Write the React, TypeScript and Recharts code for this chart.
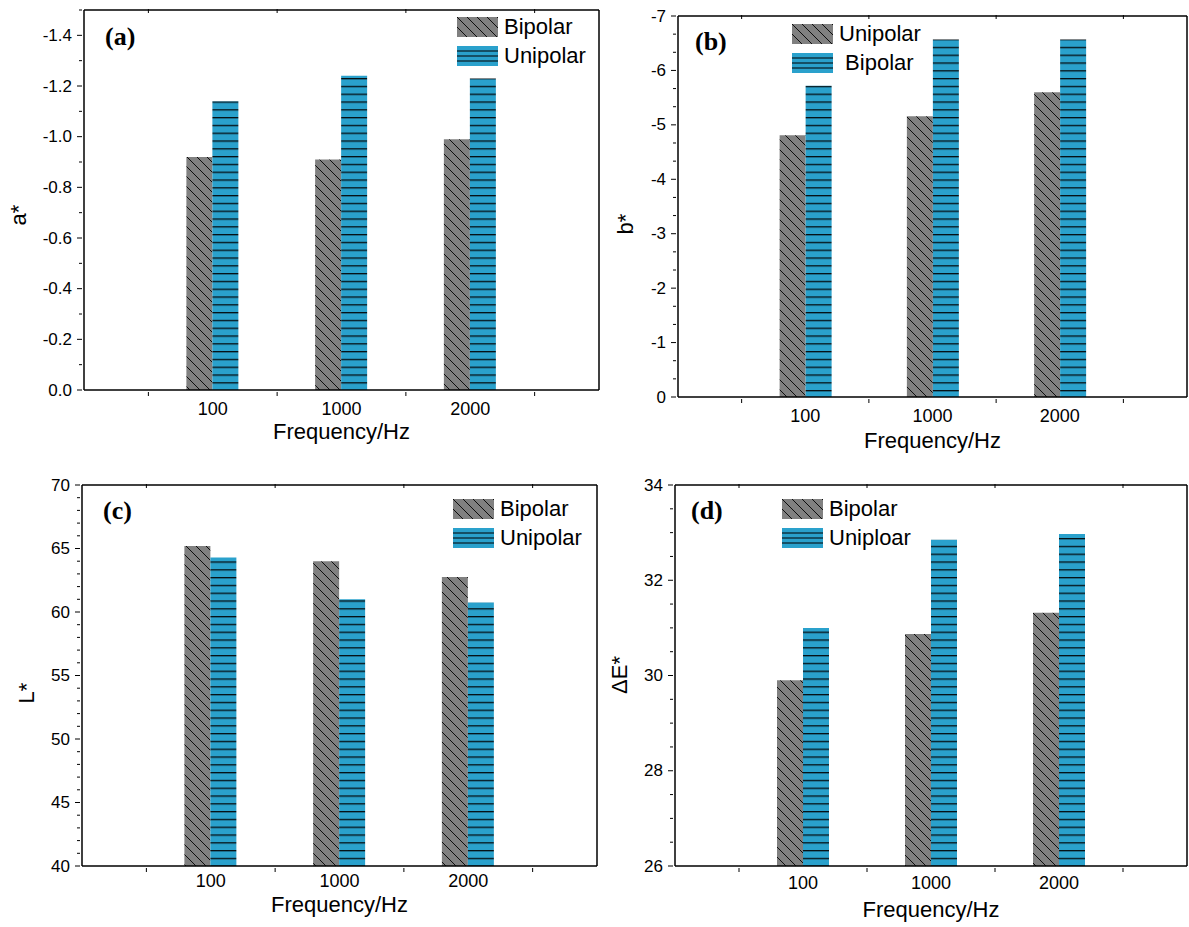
import React from 'react';
import { BarChart, Bar, XAxis, YAxis, Legend } from 'recharts';

const frequencies = ['100', '1000', '2000'];

// (a) a*
const aBipolar = [-0.92, -0.91, -0.99];
const aUnipolar = [-1.14, -1.24, -1.23];
// (b) b*  (legend in the original names grey "Unipolar", blue "Bipolar")
const bUnipolar = [-4.81, -5.16, -5.6];
const bBipolar = [-5.72, -6.57, -6.57];
// (c) L*
const lBipolar = [65.2, 64.0, 62.76];
const lUnipolar = [64.3, 61.0, 60.75];
// (d) ΔE*
const eBipolar = [29.9, 30.87, 31.32];
const eUniploar = [31.0, 32.85, 32.97];

// major tick labels
const aTicks = [-1.4, -1.2, -1.0, -0.8, -0.6, -0.4, -0.2, 0];
const bTicks = [-7, -6, -5, -4, -3, -2, -1, 0];
const lTicks = [40, 45, 50, 55, 60, 65, 70];
const eTicks = [26, 28, 30, 32, 34];

const GRAY = '#808080';
const BLUE = '#2aa1cc';
const INK = '#000';
const SANS = '"Liberation Sans", Arial, sans-serif';
const SERIF = '"Liberation Serif", "Times New Roman", serif';

// all ticks (major + minor) between min and max
const allTicks = (min: number, max: number, step: number) => {
  const n = Math.round((max - min) / step);
  const out: number[] = [];
  for (let i = 0; i <= n; i++) out.push(+(min + i * step).toFixed(6));
  return out;
};

const panels = [
  {
    id: 'a', left: 0, top: 0, width: 600, height: 460,
    plot: { left: 84, right: 599, top: 10, bottom: 390 },
    domain: [-1.5, 0], reversed: true, majors: aTicks, step: 0.1,
    fmt: (v: number) => v.toFixed(1),
    yTitle: 'a*', yTitleAt: [18, 215], xTitleY: 439, tickDy: 23, tagAt: [21, 35],
    legendAt: [457, 17],
    grayName: 'Bipolar', grayVals: aBipolar, blueName: 'Unipolar', blueVals: aUnipolar,
  },
  {
    id: 'b', left: 590, top: 0, width: 599, height: 460,
    plot: { left: 88, right: 597, top: 16, bottom: 397 },
    domain: [-7, 0], reversed: true, majors: bTicks, step: 1 / 3,
    fmt: (v: number) => String(v),
    yTitle: 'b*', yTitleAt: [35, 224], xTitleY: 448, tickDy: 23, tagAt: [17, 34],
    legendAt: [202, 24],
    grayName: 'Unipolar', grayVals: bUnipolar, blueName: ' Bipolar', blueVals: bBipolar,
  },
  {
    id: 'c', left: 0, top: 460, width: 600, height: 467,
    plot: { left: 82, right: 597, top: 25, bottom: 406 },
    domain: [40, 70], reversed: false, majors: lTicks, step: 1,
    fmt: (v: number) => String(v),
    yTitle: 'L*', yTitleAt: [26, 233], xTitleY: 452, tickDy: 19, tagAt: [21, 34],
    legendAt: [453, 39],
    grayName: 'Bipolar', grayVals: lBipolar, blueName: 'Unipolar', blueVals: lUnipolar,
  },
  {
    id: 'd', left: 590, top: 460, width: 599, height: 467,
    plot: { left: 85, right: 597, top: 25, bottom: 406 },
    domain: [26, 34], reversed: false, majors: eTicks, step: 0.5,
    fmt: (v: number) => String(v),
    yTitle: 'ΔE*', yTitleAt: [29, 215], xTitleY: 457, tickDy: 21, tagAt: [16, 34],
    legendAt: [192, 39],
    grayName: 'Bipolar', grayVals: eBipolar, blueName: 'Uniploar', blueVals: eUniploar,
  },
];

function YTick(props: any) {
  const { x, y, value, majors, fmt } = props;
  const major = majors.some((m: number) => Math.abs(m - value) < 1e-6);
  return (
    <g>
      <line x1={x} x2={x - (major ? 5 : 3)} y1={y} y2={y} stroke={INK} strokeWidth={1} />
      {major && (
        <text x={x - 10} y={y} textAnchor="end" dominantBaseline="central"
          fontSize={17} fontFamily={SANS} fill="#000">
          {fmt(value)}
        </text>
      )}
    </g>
  );
}

function XTick(props: any) {
  const { x, y, index, label, band, dy, top } = props;
  const last = index === frequencies.length - 1;
  const y0 = top ? y + 1 : y;
  return (
    <g>
      <line x1={x - band / 2} x2={x - band / 2} y1={y0} y2={y0 + 4} stroke={INK} strokeWidth={1} />
      {last && <line x1={x + band / 2} x2={x + band / 2} y1={y0} y2={y0 + 4} stroke={INK} strokeWidth={1} />}
      {!top && (
        <text x={x} y={y + dy} textAnchor="middle" fontSize={18} fontFamily={SANS} fill="#000">
          {label}
        </text>
      )}
    </g>
  );
}

function Swatch({ kind, uid }: { kind: string; uid: string }) {
  if (kind === 'hatch') {
    return (
      <svg width={41} height={20} style={{ display: 'block' }}>
        <defs>
          <pattern id={uid} patternUnits="userSpaceOnUse" width={10} height={10}>
            <rect width={10} height={10} fill={GRAY} />
            <path d="M0,0L10,10M-5,5L5,15M5,-5L15,5" stroke="#000" strokeWidth={0.9} />
          </pattern>
        </defs>
        <rect width={41} height={20} fill={`url(#${uid})`} />
      </svg>
    );
  }
  return (
    <svg width={41} height={20} style={{ display: 'block' }}>
      <rect width={41} height={20} fill={BLUE} />
      {[5, 10, 15].map((ly) => (
        <line key={ly} x1={0} x2={41} y1={ly} y2={ly} stroke="#000" strokeWidth={1.2} />
      ))}
    </svg>
  );
}

function LegendBox({ payload, id }: any) {
  const items = [...(payload || [])].sort((u: any, v: any) => (u.dataKey === 'hatch' ? -1 : 1) - (v.dataKey === 'hatch' ? -1 : 1));
  return (
    <div style={{ fontFamily: SANS, fontSize: 22, color: '#000' }}>
      {items.map((item: any, i: number) => (
        <div key={i} style={{ display: 'flex', alignItems: 'center', height: 20, marginBottom: 9 }}>
          <Swatch kind={item.dataKey} uid={`sw-${id}-${i}`} />
          <span style={{ marginLeft: 6, whiteSpace: 'pre', lineHeight: '20px' }}>{item.value}</span>
        </div>
      ))}
    </div>
  );
}

function Panel({ p }: { p: (typeof panels)[number] }) {
  const data = frequencies.map((f, i) => ({ freq: f, hatch: p.grayVals[i], lines: p.blueVals[i] }));
  const plotW = p.plot.right - p.plot.left;
  const band = plotW / 4;
  const pad = plotW / 8;
  const ticks = allTicks(p.domain[0], p.domain[1], p.step);
  const cx = (p.plot.left + p.plot.right) / 2;
  const frame = { stroke: INK, strokeWidth: 1.5 };

  return (
    <div style={{ position: 'absolute', left: p.left, top: p.top }}>
      <BarChart
        width={p.width}
        height={p.height}
        data={data}
        barGap={0}
        margin={{ top: p.plot.top - 1, right: p.width - p.plot.right - 1, bottom: 0, left: 0 }}
      >
        <defs>
          <pattern id={`hatch-${p.id}`} patternUnits="userSpaceOnUse" width={10} height={10}>
            <rect width={10} height={10} fill={GRAY} />
            <path d="M0,0L10,10M-5,5L5,15M5,-5L15,5" stroke="#000" strokeWidth={0.9} />
          </pattern>
          <pattern id={`lines-${p.id}`} patternUnits="userSpaceOnUse" width={10} height={7.8}>
            <rect width={10} height={7.8} fill={BLUE} />
            <line x1={0} x2={10} y1={0.7} y2={0.7} stroke="#000" strokeWidth={1.2} />
          </pattern>
        </defs>
        <XAxis
          dataKey="freq"
          height={p.height - p.plot.bottom}
          padding={{ left: pad, right: pad }}
          interval={0}
          tickSize={0}
          tickLine={false}
          axisLine={frame}
          tick={(t: any) => (
            <XTick x={t.x} y={t.y} index={t.index} label={t.payload.value} band={band} dy={p.tickDy} />
          )}
          label={() => (
            <text x={cx} y={p.xTitleY} textAnchor="middle" fontSize={22} fontFamily={SANS} fill="#000">
              Frequency/Hz
            </text>
          )}
        />
        <XAxis
          xAxisId="top"
          orientation="top"
          dataKey="freq"
          height={1}
          padding={{ left: pad, right: pad }}
          interval={0}
          tickSize={0}
          tickLine={false}
          axisLine={frame}
          tick={(t: any) => <XTick x={t.x} y={t.y} index={t.index} band={band} top />}
          label={() => (
            <text x={p.plot.left + p.tagAt[0]} y={p.plot.top + p.tagAt[1]} fontSize={26}
              fontWeight="bold" fontFamily={SERIF} fill="#000">
              {`(${p.id})`}
            </text>
          )}
        />
        <YAxis
          width={p.plot.left}
          domain={p.domain}
          reversed={p.reversed}
          allowDataOverflow
          ticks={ticks}
          interval={0}
          tickSize={0}
          tickLine={false}
          axisLine={frame}
          tick={(t: any) => <YTick x={t.x} y={t.y} value={t.payload.value} majors={p.majors} fmt={p.fmt} />}
          label={() => (
            <text x={p.yTitleAt[0]} y={p.yTitleAt[1]} textAnchor="middle" dominantBaseline="central"
              transform={`rotate(-90 ${p.yTitleAt[0]} ${p.yTitleAt[1]})`}
              fontSize={22} fontFamily={SANS} fill="#000">
              {p.yTitle}
            </text>
          )}
        />
        <YAxis
          yAxisId="right"
          orientation="right"
          width={1}
          domain={p.domain}
          tick={false}
          tickLine={false}
          axisLine={frame}
        />
        <Legend
          layout="vertical"
          verticalAlign="middle"
          align="center"
          itemSorter="dataKey"
          wrapperStyle={{ left: p.legendAt[0], top: p.legendAt[1], width: 'auto', margin: 0, padding: 0 }}
          content={(lp: any) => <LegendBox payload={lp.payload} id={p.id} />}
        />
        <Bar dataKey="hatch" name={p.grayName} fill={`url(#hatch-${p.id})`} barSize={26} isAnimationActive={false} />
        <Bar dataKey="lines" name={p.blueName} fill={`url(#lines-${p.id})`} barSize={26} isAnimationActive={false} />
      </BarChart>
    </div>
  );
}

export default function App() {
  return (
    <div style={{ position: 'absolute', left: 0, top: 0, width: 1189, height: 927, overflow: 'hidden', background: '#fff' }}>
      {panels.map((p) => (
        <Panel key={p.id} p={p} />
      ))}
    </div>
  );
}
